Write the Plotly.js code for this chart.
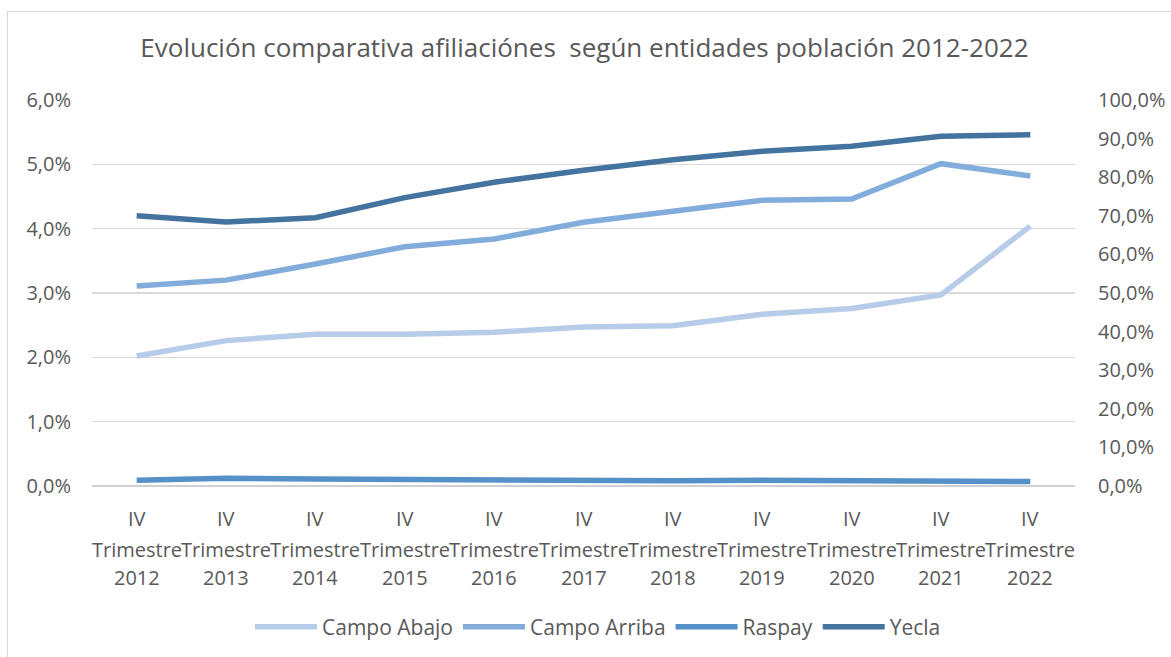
<!DOCTYPE html>
<html>
<head>
<meta charset="utf-8">
<script src="https://cdn.plot.ly/plotly-3.0.1.min.js"></script>
<style>
  html, body { margin:0; padding:0; background:#fff; overflow:hidden; }
  #chart { width:1171px; height:657px; position:absolute; left:0; top:0; }
  #frame { position:absolute; left:7px; top:11px; width:3000px; height:3000px; border:1.5px solid #d9d9d9; pointer-events:none; }
</style>
</head>
<body>
<div id="chart"></div>
<div id="frame"></div>
<script>
const categories = ["IV Trimestre 2012","IV Trimestre 2013","IV Trimestre 2014","IV Trimestre 2015","IV Trimestre 2016","IV Trimestre 2017","IV Trimestre 2018","IV Trimestre 2019","IV Trimestre 2020","IV Trimestre 2021","IV Trimestre 2022"];
const labelLine1 = ["IV","IV","IV","IV","IV","IV","IV","IV","IV","IV","IV"];
const labelLine2 = ["Trimestre","Trimestre","Trimestre","Trimestre","Trimestre","Trimestre","Trimestre","Trimestre","Trimestre","Trimestre","Trimestre"];
const labelLine3 = ["2012","2013","2014","2015","2016","2017","2018","2019","2020","2021","2022"];

const campoAbajo  = [0.0202, 0.0226, 0.0236, 0.0236, 0.0239, 0.0247, 0.0249, 0.0267, 0.0276, 0.0297, 0.0404];
const campoArriba = [0.0311, 0.0320, 0.0345, 0.0372, 0.0384, 0.0410, 0.0427, 0.0444, 0.0446, 0.0501, 0.0482];
const raspay      = [0.0009, 0.0012, 0.0011, 0.0010, 0.0010, 0.0008, 0.0008, 0.0009, 0.0008, 0.0007, 0.0007];
const yecla       = [0.700, 0.684, 0.695, 0.747, 0.787, 0.818, 0.845, 0.867, 0.880, 0.906, 0.910];

const seriesNames = ["Campo Abajo","Campo Arriba","Raspay","Yecla"];
const colors = ["#b7cce8","#82acdc","#5590c8","#44739f"];

const font = "'Open Sans', 'Noto Sans', sans-serif";
const grey = "#595959";

const traces = [
  {x: categories, y: campoAbajo, name: seriesNames[0], yaxis: "y"},
  {x: categories, y: campoArriba, name: seriesNames[1], yaxis: "y"},
  {x: categories, y: raspay, name: seriesNames[2], yaxis: "y"},
  {x: categories, y: yecla, name: seriesNames[3], yaxis: "y2"}
].map((t, i) => Object.assign(t, {
  type: "scatter", mode: "lines",
  line: {color: colors[i], width: 5.5, shape: "linear"},
  hoverinfo: "skip"
}));

const annotations = [];
categories.forEach((c, i) => {
  [[labelLine1[i], -32], [labelLine2[i], -63], [labelLine3[i], -91]].forEach(([txt, ys]) => {
    annotations.push({
      x: c, xref: "x", y: 0, yref: "paper", yanchor: "middle", xanchor: "center",
      yshift: ys, text: txt, showarrow: false,
      font: {family: font, size: 20, color: grey}
    });
  });
});

const layout = {
  width: 1171, height: 657,
  margin: {l: 92, r: 96, t: 100, b: 171},
  paper_bgcolor: "rgba(0,0,0,0)", plot_bgcolor: "#fff",
  separators: ",.",
  showlegend: true,
  title: {
    text: "Evolución comparativa afiliaciónes \u00a0según entidades población 2012-2022",
    font: {family: font, size: 26, color: grey},
    x: 0.4991, xanchor: "center", xref: "container",
    y: 1 - 48/657, yanchor: "middle", yref: "container"
  },
  xaxis: {
    type: "category", range: [-0.5, 10.5],
    showticklabels: false, showgrid: false, zeroline: false,
    showline: false, ticks: ""
  },
  yaxis: {
    range: [0, 0.06], dtick: 0.01, tickformat: ".1%",
    showgrid: true, gridcolor: "#d9d9d9", gridwidth: 1.5,
    zeroline: true, zerolinecolor: "#d0d0d0", zerolinewidth: 2.5,
    showline: false, ticks: "",
    ticklabelstandoff: 20,
    tickfont: {family: font, size: 20, color: grey}
  },
  yaxis2: {
    range: [0, 1], dtick: 0.1, tickformat: ".1%",
    overlaying: "y", side: "right",
    showgrid: false, zeroline: false, showline: false, ticks: "",
    ticklabelstandoff: 22,
    tickfont: {family: font, size: 20, color: grey}
  },
  legend: {
    orientation: "h", xref: "container", yref: "container",
    x: 598/1171, xanchor: "center", y: 1 - 627/657, yanchor: "middle",
    font: {family: font, size: 21, color: grey},
    itemwidth: 62,
    itemclick: false, traceorder: "normal"
  },
  annotations: annotations
};

Plotly.newPlot("chart", traces, layout, {displayModeBar: false, staticPlot: true});
</script>
</body>
</html>
